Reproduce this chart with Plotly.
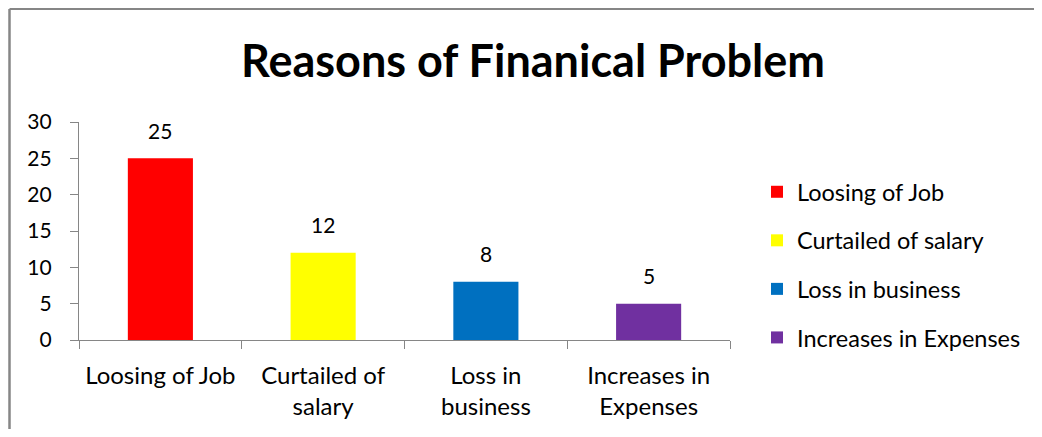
import plotly.graph_objects as go

categories = ["Loosing of Job", "Curtailed of salary", "Loss in business", "Increases in Expenses"]
tick_labels = ["Loosing of Job", "Curtailed of<br>salary", "Loss in<br>business", "Increases in<br>Expenses"]
values = [25, 12, 8, 5]
colors = ["#FF0000", "#FFFF00", "#0070C0", "#7030A0"]
y_ticks = [0, 5, 10, 15, 20, 25, 30]

FONT = "Lato"
AXIS = "#868686"
OFF = 8  # page body margin

fig = go.Figure()
for cat, lab, v, c in zip(categories, tick_labels, values, colors):
    fig.add_trace(go.Bar(x=[lab], y=[v], name=cat, marker=dict(color=c, line=dict(width=0)),
                         width=0.4, legendgroup=cat))

for lab, v in zip(tick_labels, values):
    fig.add_annotation(x=lab, y=v, text=str(v), showarrow=False, yshift=28,
                       font=dict(family=FONT, size=21, color="#000000"))

W, H = 1042 - 2 * OFF, 437 - 2 * OFF
L = 79 - OFF
T = 122 - OFF
R = W - (730 - OFF)
B = H - (340 - OFF)
pw, ph = W - L - R, H - T - B
def px_x(px):
    return (px - OFF - L) / pw
def px_y(py):
    return (H - B - (py - OFF)) / ph

fig.add_shape(type="line", xref="paper", yref="paper", x0=px_x(9.5), x1=px_x(1080),
              y0=px_y(9), y1=px_y(9), line=dict(color="#868686", width=2))
fig.add_shape(type="line", xref="paper", yref="paper", x0=px_x(9.5), x1=px_x(9.5),
              y0=px_y(9), y1=px_y(480), line=dict(color="#868686", width=2.5))

fig.update_layout(
    width=W, height=H,
    margin=dict(l=L, r=R, t=T, b=B, autoexpand=False),
    paper_bgcolor="white", plot_bgcolor="white",
    barmode="overlay",
    title=dict(text="<b>Reasons of Finanical Problem</b>", x=px_x(533), xanchor="center",
               y=1 - (61 - OFF) / H, yanchor="middle", xref="paper",
               font=dict(family=FONT, size=45, color="#000000")),
    font=dict(family=FONT, size=24, color="#000000"),
    showlegend=True,
    legend=dict(x=px_x(757), xanchor="left", y=px_y(170), yanchor="top",
                font=dict(family=FONT, size=23.5, color="#000000"),
                tracegroupgap=15, bgcolor="rgba(0,0,0,0)"),
    xaxis=dict(showline=True, linecolor=AXIS, linewidth=1.3, ticks="outside", ticklen=8,
               tickcolor=AXIS, tickwidth=1.3, tickson="boundaries", showgrid=False,
               automargin=False,
               ticklabelstandoff=14, tickfont=dict(family=FONT, size=24, color="#000000")),
    yaxis=dict(range=[0, 30], tickvals=y_ticks, showline=True, linecolor=AXIS, linewidth=1.3,
               ticks="outside", ticklen=8, tickcolor=AXIS, tickwidth=1.3, showgrid=False,
               zeroline=False, ticklabelstandoff=14, automargin=False,
               tickfont=dict(family=FONT, size=21, color="#000000")),
)

fig.write_html("out.html")
